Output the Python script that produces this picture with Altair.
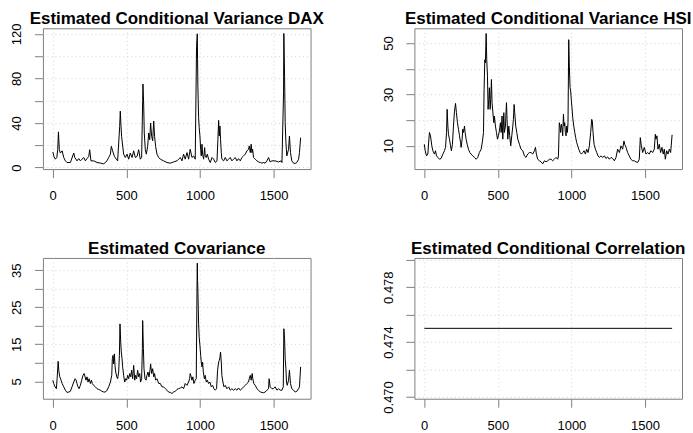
import altair as alt
import pandas as pd

# ---------------- data ----------------
dax_t = [1, 8, 18, 28, 34, 39, 45, 52, 64, 75,
         86, 97, 120, 143, 150, 165, 177, 188, 199, 211,
         222, 233, 245, 251, 260, 279, 301, 324, 347, 369,
         380, 392, 398, 407, 419, 432, 441, 455, 459, 464,
         468, 473, 482, 493, 505, 516, 527, 539, 550, 561,
         573, 584, 595, 604, 611, 613, 618, 622, 629, 636,
         645, 652, 659, 665, 672, 679, 686, 692, 699, 708,
         720, 731, 753, 776, 799, 821, 844, 855, 867, 878,
         889, 900, 912, 923, 934, 946, 957, 968, 977, 982,
         984, 986, 991, 995, 1000, 1005, 1009, 1014, 1018, 1025,
         1032, 1036, 1043, 1050, 1059, 1070, 1082, 1093, 1104, 1116,
         1122, 1127, 1131, 1136, 1140, 1145, 1149, 1161, 1172, 1183,
         1195, 1206, 1217, 1228, 1240, 1251, 1262, 1274, 1285, 1296,
         1308, 1319, 1330, 1335, 1342, 1348, 1353, 1358, 1364, 1376,
         1387, 1398, 1410, 1421, 1432, 1443, 1455, 1466, 1477, 1489,
         1511, 1534, 1552, 1557, 1568, 1570, 1575, 1579, 1584, 1590,
         1602, 1608, 1615, 1624, 1636, 1647, 1658, 1670, 1676, 1684]
dax_v = [14, 10, 7.5, 9, 16, 32, 16, 13, 15, 9,
         6, 4.5, 4.5, 13, 9, 6, 8, 6, 7.5, 9,
         6, 8, 10, 16, 6, 6, 4.5, 4, 3.3, 6,
         9, 12, 19, 15, 10, 7.5, 6, 37, 50.6, 37,
         28, 22, 12, 9, 12, 7.5, 13, 9, 15, 9,
         10, 16, 7.5, 9, 60, 75, 56, 31, 16, 12,
         19, 31, 25, 40, 28, 24, 41.7, 28, 19, 12,
         9, 7.5, 6, 4.5, 3.9, 5, 6, 7.5, 9, 6,
         12, 7.5, 13.4, 7.5, 16.4, 9, 10.4, 7.5, 108.7, 120,
         96.8, 73, 44.7, 35.7, 28.3, 16.4, 10.4, 20.9, 12, 7.5,
         17.9, 10.4, 9, 12, 7.5, 4.5, 9, 7.5, 4.5, 6,
         25.3, 42.3, 28.3, 37.2, 25.3, 13.4, 7.5, 6, 9, 6,
         7.5, 9, 6, 7.5, 9, 6, 8, 6, 9, 10.4,
         12, 14.9, 16.4, 19.4, 13.4, 20.9, 13.4, 16.4, 9, 7.5,
         6, 5, 4.5, 3.9, 4.5, 3.9, 6, 9, 5, 6,
         6, 5, 6, 4.5, 67, 120.3, 81.9, 40.2, 22.4, 10.4,
         16.4, 28.3, 13.4, 6, 3.9, 3.6, 4.5, 7.5, 13.4, 26.8]

hsi_t = [1, 7, 16, 25, 32, 36, 43, 52, 59, 70,
         77, 84, 93, 104, 115, 127, 138, 145, 152, 156,
         161, 165, 172, 179, 185, 192, 199, 206, 213, 219,
         226, 233, 240, 247, 251, 258, 262, 267, 274, 278,
         285, 292, 301, 310, 319, 330, 342, 353, 364, 375,
         387, 396, 403, 407, 412, 416, 421, 425, 430, 434,
         439, 443, 448, 452, 457, 461, 466, 473, 477, 484,
         491, 498, 504, 511, 518, 523, 529, 534, 541, 545,
         552, 559, 563, 568, 575, 581, 588, 595, 602, 606,
         611, 615, 622, 629, 636, 647, 658, 670, 681, 692,
         703, 715, 726, 737, 749, 756, 762, 771, 783, 794,
         805, 817, 828, 839, 851, 862, 873, 884, 896, 907,
         912, 918, 923, 927, 932, 937, 941, 946, 950, 955,
         959, 964, 968, 973, 977, 982, 986, 991, 995, 1000,
         1004, 1009, 1016, 1023, 1029, 1036, 1043, 1050, 1059, 1068,
         1077, 1086, 1095, 1104, 1113, 1122, 1131, 1138, 1142, 1147,
         1154, 1163, 1172, 1181, 1190, 1201, 1213, 1224, 1235, 1246,
         1258, 1269, 1280, 1292, 1303, 1314, 1326, 1337, 1348, 1357,
         1362, 1371, 1382, 1393, 1404, 1416, 1427, 1438, 1450, 1461,
         1468, 1475, 1484, 1495, 1507, 1518, 1529, 1540, 1552, 1563,
         1570, 1574, 1581, 1588, 1597, 1606, 1615, 1624, 1631, 1638,
         1647, 1656, 1665, 1674, 1684]
hsi_v = [10.6, 8.1, 6.1, 6.8, 12.6, 15.2, 13.9, 10, 8.1, 6.8,
         8.1, 6.1, 5.5, 4.8, 5.1, 6.8, 8.1, 9.4, 15.2, 24.2,
         17.7, 14.5, 12.6, 10, 8.1, 10.6, 17.7, 23.5, 26.5, 22.9,
         19, 16.5, 13.9, 11.3, 9.4, 12.6, 16.5, 15.2, 17.7, 15.2,
         12.6, 10.6, 8.7, 7.4, 6.8, 6.1, 5.5, 4.8, 5.5, 7.4,
         8.7, 11.9, 15.2, 31.9, 43.5, 42.3, 53.7, 43.5, 37.1, 24.2,
         28.1, 32.6, 24.2, 28.1, 35.8, 26.8, 23.5, 19, 21.6, 17.7,
         15.2, 12.6, 13.9, 15.8, 19, 15.2, 21.6, 12.6, 22.9, 15.2,
         17.7, 26.8, 20.3, 12.6, 17.7, 13.9, 10, 13.9, 17.7, 20.3,
         26.1, 22.9, 17.7, 15.2, 12.6, 10.6, 8.7, 8.1, 6.1, 5.5,
         6.8, 7.4, 7.4, 6.8, 8.1, 9.4, 6.8, 4.8, 4.2, 3.8,
         3.0, 4.2, 3.8, 4.2, 4.8, 4.8, 4.2, 4.8, 5.5, 4.8,
         6.1, 19, 17.7, 15.2, 18.4, 16.5, 13.9, 22.3, 17.7, 19,
         15.2, 13.9, 17.7, 15.2, 19, 51.3, 41, 32.6, 31.3, 27.4,
         24.8, 21, 17.7, 15.2, 13.2, 11.3, 10, 8.7, 7.4, 6.8,
         7.4, 8.1, 6.8, 8.7, 7.4, 10, 15.2, 20.3, 19.7, 15.2,
         10.6, 8.7, 7.4, 6.1, 5.5, 6.1, 5.5, 6.1, 5.1, 5.7,
         4.8, 5.5, 5.1, 4.2, 5.5, 8.7, 7.4, 10, 8.7, 11.9,
         10.6, 9.4, 7.4, 6.1, 4.8, 4.2, 4.2, 3.8, 3.5, 4.8,
         13.2, 10, 7.4, 9.4, 6.8, 7.4, 6.8, 8.1, 7.4, 8.7,
         14.5, 12.6, 13.9, 8.7, 10.6, 7.4, 9.4, 6.8, 8.7, 4.8,
         8.1, 6.8, 8.7, 7.4, 14.3]

cov_t = [1, 7, 16, 25, 30, 37, 41, 48, 57, 64,
         75, 86, 97, 109, 120, 131, 143, 152, 159, 165,
         172, 179, 188, 197, 206, 213, 220, 226, 233, 240,
         247, 256, 263, 269, 278, 290, 301, 312, 324, 335,
         347, 358, 369, 380, 392, 401, 405, 410, 414, 419,
         423, 428, 435, 441, 448, 453, 457, 462, 466, 471,
         475, 482, 489, 496, 502, 509, 516, 523, 530, 536,
         543, 550, 557, 563, 570, 577, 584, 591, 597, 604,
         609, 611, 616, 620, 627, 634, 640, 647, 654, 661,
         665, 672, 679, 686, 692, 699, 708, 720, 731, 742,
         753, 765, 776, 787, 799, 810, 821, 833, 844, 855,
         867, 878, 889, 900, 912, 923, 930, 934, 941, 946,
         952, 959, 968, 975, 980, 982, 984, 986, 991, 995,
         1000, 1005, 1009, 1014, 1018, 1023, 1030, 1036, 1043, 1050,
         1059, 1068, 1077, 1086, 1095, 1104, 1113, 1120, 1127, 1131,
         1136, 1140, 1145, 1149, 1156, 1163, 1172, 1183, 1195, 1206,
         1217, 1228, 1240, 1251, 1262, 1274, 1285, 1296, 1308, 1319,
         1330, 1335, 1342, 1348, 1355, 1359, 1366, 1376, 1387, 1398,
         1410, 1421, 1432, 1443, 1455, 1466, 1470, 1477, 1489, 1500,
         1511, 1523, 1534, 1545, 1557, 1566, 1570, 1575, 1579, 1584,
         1588, 1593, 1602, 1608, 1615, 1624, 1636, 1647, 1658, 1670,
         1676, 1684]
cov_v = [5.3, 4.4, 3.5, 3.0, 5.7, 10.4, 8.0, 6.2, 5.3, 4.4,
         3.5, 2.6, 2.0, 2.1, 2.3, 3.5, 4.8, 5.7, 5.3, 4.4,
         3.5, 3.0, 3.9, 5.3, 6.6, 7.1, 6.2, 5.3, 6.2, 4.8,
         5.7, 4.4, 5.3, 4.4, 3.9, 3.5, 3.0, 2.8, 2.6, 2.3,
         2.1, 2.1, 2.6, 3.5, 4.8, 6.6, 11.1, 12.0, 9.7, 12.4,
         9.3, 7.5, 6.2, 5.7, 7.5, 12.0, 20.5, 15.6, 12.9, 11.1,
         8.9, 6.6, 4.8, 5.7, 5.3, 6.6, 5.7, 7.1, 6.2, 8.0,
         5.7, 9.3, 5.3, 6.6, 5.7, 8.0, 6.2, 7.1, 4.8, 5.7,
         13.8, 21.4, 13.8, 8.4, 5.7, 5.3, 6.6, 7.5, 6.2, 8.0,
         9.7, 7.1, 8.4, 6.2, 7.1, 5.3, 5.7, 4.4, 4.4, 3.5,
         3.5, 3.0, 2.6, 2.1, 2.0, 1.7, 2.1, 2.3, 2.8, 3.0,
         3.2, 3.5, 3.0, 4.4, 3.9, 4.8, 5.7, 7.1, 6.2, 5.3,
         6.2, 4.4, 5.3, 5.7, 29.9, 36.9, 32.2, 29.9, 20.5, 16.9,
         14.7, 12.0, 10.2, 8.9, 10.2, 7.5, 5.7, 6.6, 4.8, 5.3,
         4.4, 4.8, 3.5, 3.9, 3.0, 2.6, 3.0, 8.0, 10.2, 10.6,
         11.5, 12.9, 10.2, 6.6, 4.8, 3.5, 3.9, 3.0, 3.5, 2.6,
         3.0, 2.6, 3.0, 2.6, 3.2, 2.6, 3.0, 3.5, 3.9, 4.4,
         4.8, 5.7, 6.6, 5.3, 7.1, 5.7, 4.4, 3.9, 3.0, 2.6,
         2.1, 2.0, 1.9, 2.1, 2.6, 3.0, 5.7, 3.5, 3.0, 3.0,
         3.5, 2.6, 3.0, 2.6, 2.6, 3.5, 19.2, 16.5, 11.1, 8.4,
         4.8, 3.9, 5.3, 8.0, 4.4, 3.0, 2.6, 2.1, 2.3, 3.0,
         3.5, 8.9]

cor_t = [1, 1684]
cor_v = [0.475, 0.475]

titles = ["Estimated Conditional Variance DAX", "Estimated Conditional Variance HSI",
          "Estimated Covariance", "Estimated Conditional Correlation"]
x_ticks = [0, 500, 1000, 1500]
dax_ticks = [0, 20, 40, 60, 80, 100, 120]
hsi_ticks = [10, 20, 30, 40, 50]
cov_ticks = [5, 10, 15, 20, 25, 30, 35]
cor_ticks = [0.470, 0.472, 0.474, 0.476, 0.478, 0.480]

FONT = "Liberation Sans"
GRAY = "#808080"
W, H = 268, 141


def r_range(vals):
    lo, hi = min(vals), max(vals)
    d = (hi - lo) * 0.04
    return [lo - d, hi + d]


x_dom = r_range(dax_t)


def panel(t, v, title, yticks, label_expr, y_dom):
    df = pd.DataFrame({"t": t, "v": v})
    line = alt.Chart(df).mark_line(color="black", strokeWidth=1).encode(
        x=alt.X("t:Q", scale=alt.Scale(domain=x_dom, nice=False, zero=False),
                axis=alt.Axis(values=x_ticks, title=None, labelPadding=12, format="d",
                              labelFlush=False, labelOverlap=False)),
        y=alt.Y("v:Q", scale=alt.Scale(domain=y_dom, nice=False, zero=False),
                axis=alt.Axis(values=yticks, title=None, labelAngle=-90,
                              labelAlign="center", labelBaseline="bottom",
                              labelPadding=10.5, labelExpr=label_expr,
                              labelFlush=False, labelOverlap=False)),
    )
    ttl = alt.Chart(pd.DataFrame({"title": [title]})).mark_text(
        font=FONT, fontSize=17, fontWeight="bold", color="black",
        align="center", baseline="alphabetic",
    ).encode(text="title:N", x=alt.value(W / 2), y=alt.value(-4))
    return alt.layer(line, ttl).properties(width=W, height=H)


p1 = panel(dax_t, dax_v, titles[0], dax_ticks,
           "datum.value % 40 == 0 ? datum.label : ''", r_range(dax_v))
p2 = panel(hsi_t, hsi_v, titles[1], hsi_ticks,
           "(datum.value - 10) % 20 == 0 ? datum.label : ''", r_range(hsi_v))
p3 = panel(cov_t, cov_v, titles[2], cov_ticks,
           "(datum.value - 5) % 10 == 0 ? datum.label : ''", r_range(cov_v))
p4 = panel(cor_t, cor_v, titles[3], cor_ticks,
           "round(datum.value * 1000) % 4 == 2 ? format(datum.value, '.3f') : ''",
           [0.475 * 0.99 - 0.0095 * 0.04, 0.475 * 1.01 + 0.0095 * 0.04])

chart = (
    alt.concat(p1, p2, p3, p4, columns=2, spacing={"row": 89, "column": 104}, bounds="flush")
    .properties(padding={"left": 10, "top": 9, "right": 0, "bottom": 0}, background="white")
    .configure_view(stroke=GRAY, strokeWidth=1)
    .configure_axis(domain=False, tickColor=GRAY, tickSize=8.5, tickWidth=1,
                    labelFont=FONT, labelFontSize=13, labelColor="black",
                    grid=True, gridColor="#d3d3d3", gridDash=[1, 3], gridWidth=1)
)

chart.save("out.html", embed_options={"renderer": "svg", "actions": False})
